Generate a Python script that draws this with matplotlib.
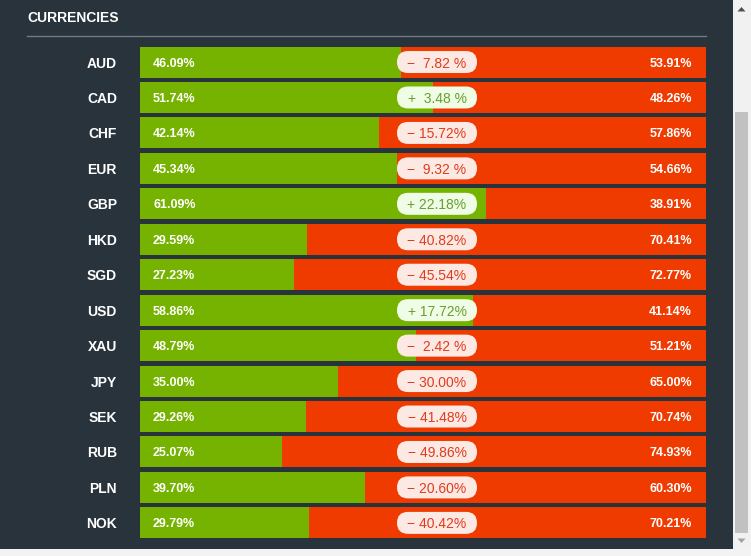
import matplotlib.pyplot as plt
from matplotlib.patches import Rectangle, FancyBboxPatch, Polygon

# Currency sentiment: share long (green) vs short (red) and the net change.
currencies = ["AUD", "CAD", "CHF", "EUR", "GBP", "HKD", "SGD",
              "USD", "XAU", "JPY", "SEK", "RUB", "PLN", "NOK"]
long_pct = [46.09, 51.74, 42.14, 45.34, 61.09, 29.59, 27.23,
            58.86, 48.79, 35.00, 29.26, 25.07, 39.70, 29.79]
short_pct = [53.91, 48.26, 57.86, 54.66, 38.91, 70.41, 72.77,
             41.14, 51.21, 65.00, 70.74, 74.93, 60.30, 70.21]
net_change = [-7.82, 3.48, -15.72, -9.32, 22.18, -40.82, -45.54,
              17.72, -2.42, -30.00, -41.48, -49.86, -20.60, -40.42]

BG = "#29333b"
GREEN = "#76b200"
RED = "#ef3a00"
W, H = 751, 556

fig = plt.figure(figsize=(W / 100, H / 100), dpi=100, facecolor="#f3f3f3")

# background axes in pixel units for panel, title and scrollbar
bg = fig.add_axes([0, 0, 1, 1])
bg.set_xlim(0, W)
bg.set_ylim(H, 0)
bg.axis("off")
bg.add_patch(Rectangle((0, 0), 733, 549, color=BG, lw=0))
bg.add_patch(Rectangle((733, 0), 18, 549, color="#f1f1f1", lw=0))
bg.add_patch(Rectangle((735, 112), 13, 421, color="#c1c1c1", lw=0))
bg.add_patch(Polygon([[737.5, 11.5], [745.5, 11.5], [741.5, 7]], color="#505050", lw=0))
bg.add_patch(Polygon([[737.5, 538.5], [745.5, 538.5], [741.5, 543]], color="#a3a3a3", lw=0))
bg.text(27, 18, "CURRENCIES", color="white", fontsize=10, fontweight="bold",
        family="Liberation Sans", va="center", ha="left")
bg.plot([27, 706], [35.5, 35.5], color="#6f7a83", lw=1)

# bar axes
top_px, pitch = 44.3, 35.45
n = len(currencies)
ax = fig.add_axes([140 / W, 1 - (top_px + n * pitch) / H, 566 / W, n * pitch / H])
ax.set_xlim(0, 100)
ax.set_ylim(n - 0.5, -0.5)
ax.axis("off")

ypos = list(range(n))
bar_h = 0.875
ax.barh(ypos, long_pct, height=bar_h, color=GREEN, lw=0)
ax.barh(ypos, short_pct, left=long_pct, height=bar_h, color=RED, lw=0)

px_x = 100 / 566       # data units per pixel in x
px_y = 1 / pitch       # data units per pixel in y
pill_cx = (437 - 140) * px_x
pill_w = 80 * px_x
pill_h = 22 * px_y
dy = 1.5 * px_y        # nudge text down to sit visually centred

for i, (cur, lp, sp, ch) in enumerate(zip(currencies, long_pct, short_pct, net_change)):
    ax.text(-23 * px_x, i + dy, cur, color="white", fontsize=10, fontweight="bold",
            family="Liberation Sans", ha="right", va="center")
    ax.text(13 * px_x, i + dy, f"{lp:.2f}%", color="white", fontsize=9, fontweight="bold",
            family="Liberation Sans", ha="left", va="center")
    ax.text(552 * px_x, i + dy, f"{sp:.2f}%", color="white", fontsize=9, fontweight="bold",
            family="Liberation Sans", ha="right", va="center")

    up = ch >= 0
    sign = "+" if up else "\u2212"
    if abs(ch) < 10:
        label = f"{sign}  {abs(ch):.2f} %"
    else:
        label = f"{sign} {abs(ch):.2f}%"
    ax.add_patch(FancyBboxPatch((pill_cx - pill_w / 2, i - pill_h / 2), pill_w, pill_h,
                                boxstyle=f"round,pad=0,rounding_size={11 * px_x}",
                                mutation_aspect=px_y / px_x,
                                fc="#effce6" if up else "#fde9e4", ec="none"))
    ax.text(pill_cx, i + dy, label, color="#6b9e2c" if up else "#e03c1c",
            fontsize=10, family="Liberation Sans", ha="center", va="center")

fig.savefig("out.png", dpi=100, facecolor=fig.get_facecolor())
